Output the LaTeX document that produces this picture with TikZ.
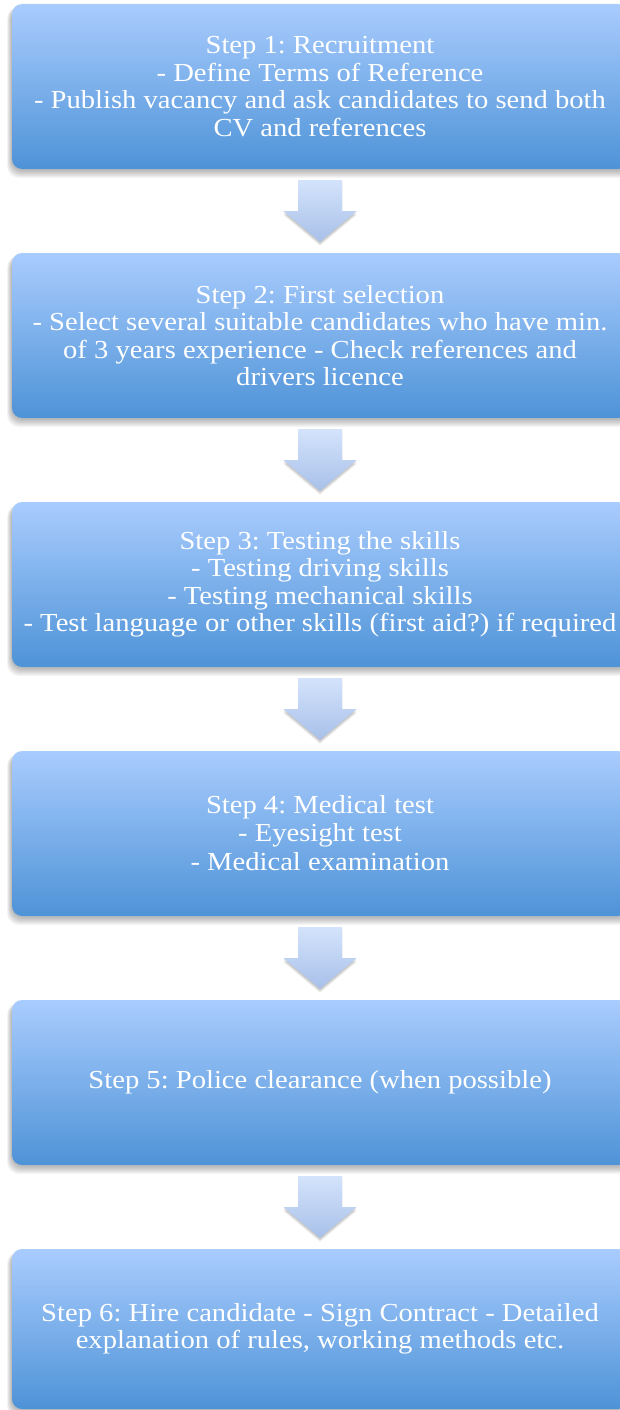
\documentclass[tikz,border=0pt]{standalone}
\usepackage{fontspec}
\setmainfont{Liberation Serif}[FakeStretch=1.10]
\usetikzlibrary{calc,backgrounds}
\definecolor{boxtop}{HTML}{A9CCFE}
\definecolor{boxbot}{HTML}{4E93D7}
\definecolor{arrtop}{HTML}{D3E3FB}
\definecolor{arrbot}{HTML}{A8C0E9}
\tikzset{
  stepbox/.style={rectangle, rounded corners=10pt, minimum width=616pt,
    minimum height=165pt, top color=boxtop, bottom color=boxbot,
    text=white, align=center, inner sep=0pt,
    font=\fontsize{26}{27.5}\selectfont\frenchspacing},
  lastbox/.style={stepbox, minimum height=160pt},
  boxshadow/.style={fill=black, fill opacity=0.035, rounded corners=12pt},
  arrowfill/.style={top color=arrtop, bottom color=arrbot},
  arrowshadow/.style={fill=black, fill opacity=0.06},
}
\newcommand{\stepshadow}[1]{%
  \foreach \k in {1,...,8}{
    \fill[boxshadow] ($(#1.north west)+(-0.6*\k,3)$) rectangle ($(#1.south east)+(0.6*\k,1+\k)$);
  }}
\newcommand{\flowarrowpath}[3]{%
  ($(#1.south)+(-22,11+#3)$) -- ($(#1.south)+(22,11+#3)$) -- ($(#1.south)+(22,42+#3)$)
  -- ($(#1.south)+(36.5,42+#3)$) -- ($(#2.north)+(0,-11+#3)$) -- ($(#1.south)+(-36.5,42+#3)$)
  -- ($(#1.south)+(-22,42+#3)$) -- cycle}
\newcommand{\flowarrow}[2]{%
  \foreach \d in {1,2,3,4}{
    \fill[arrowshadow] \flowarrowpath{#1}{#2}{\d};
  }
  \shade[arrowfill] \flowarrowpath{#1}{#2}{0};}
\begin{document}
\begin{tikzpicture}[x=1pt,y=-1pt]
  \useasboundingbox (0,0) rectangle (620,1410);
  \clip (0,0) rectangle (620,1410);
  \node[stepbox] (s1) at (320,86.5) {Step 1: Recruitment\\- Define Terms of Reference\\- Publish vacancy and ask candidates to send both\\CV and references};
  \node[stepbox] (s2) at (320,335.5) {Step 2: First selection\\- Select several suitable candidates who have min.\\of 3 years experience - Check references and\\drivers licence};
  \node[stepbox] (s3) at (320,584.5) {Step 3: Testing the skills\\- Testing driving skills\\- Testing mechanical skills\\- Test language or other skills (first aid?) if required};
  \node[stepbox] (s4) at (320,833.5) {Step 4: Medical test\\- Eyesight test\\[2pt]- Medical examination};
  \node[stepbox] (s5) at (320,1082.5) {Step 5: Police clearance (when possible)};
  \node[lastbox] (s6) at (320,1329) {Step 6: Hire candidate - Sign Contract - Detailed\\explanation of rules, working methods etc.};
  \begin{scope}[on background layer]
    \fill[white] (0,0) rectangle (620,1410);
    \stepshadow{s1}\stepshadow{s2}\stepshadow{s3}
    \stepshadow{s4}\stepshadow{s5}\stepshadow{s6}
  \end{scope}
  \flowarrow{s1}{s2}
  \flowarrow{s2}{s3}
  \flowarrow{s3}{s4}
  \flowarrow{s4}{s5}
  \flowarrow{s5}{s6}
\end{tikzpicture}
\end{document}
